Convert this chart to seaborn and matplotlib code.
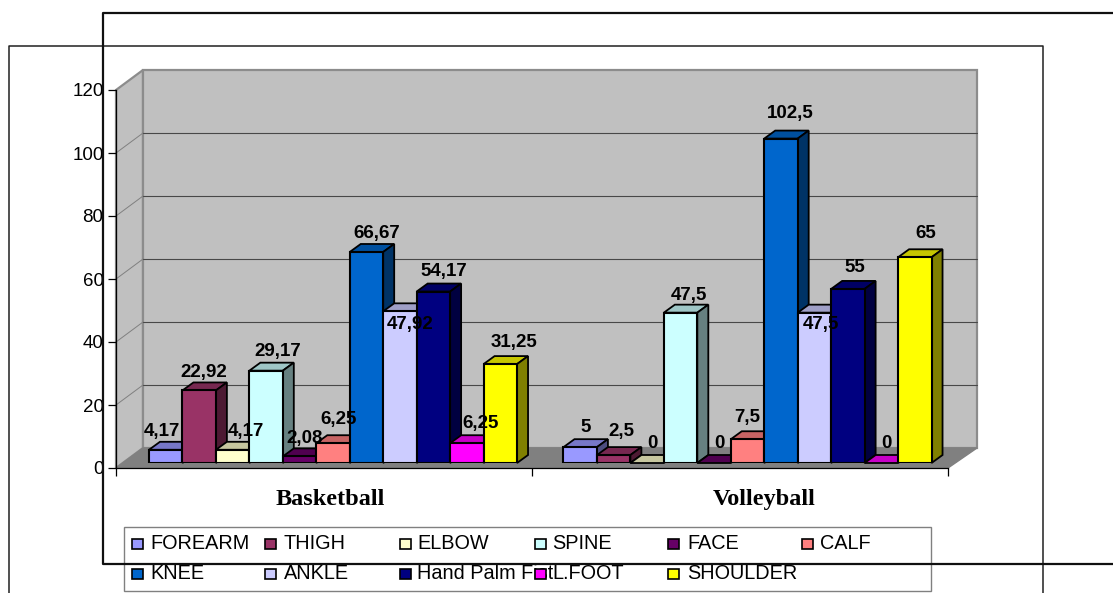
# injuries by body part - basketball vs volleyball, fake 3D bars
import pandas as pd
import matplotlib.pyplot as plt
import seaborn as sns
from matplotlib.patches import Polygon, Rectangle
from matplotlib.transforms import ScaledTranslation

sports = ['Basketball', 'Volleyball']
parts = ['FOREARM', 'THIGH', 'ELBOW', 'SPINE', 'FACE', 'CALF',
         'KNEE', 'ANKLE', 'Hand Palm Fist', 'L.FOOT', 'SHOULDER']
basketball = [4.17, 22.92, 4.17, 29.17, 2.08, 6.25, 66.67, 47.92, 54.17, 6.25, 31.25]
volleyball = [5, 2.5, 0, 47.5, 0, 7.5, 102.5, 47.5, 55, 0, 65]
colors = ['#9999FF', '#993366', '#FFFFCC', '#CCFFFF', '#660066', '#FF8080',
          '#0066CC', '#CCCCFF', '#000080', '#FF00FF', '#FFFF00']
yticks = [0, 20, 40, 60, 80, 100, 120]

# nudges (px) of the value labels from bar centre / bar top
nudge_x = [[-4, 5, 13, 12, 5, 6, 10, 10, 10, 14, 14],
           [5, 8, 5, 8.5, 5, 0, 9, 6.5, 7, 5.5, 11]]
nudge_y = [[18, 18, 18, 19, 18, 24, 18.5, -13, 20, 20, 22],
           [20, 24, 20, 17, 19, 22, 25, -12, 21, 19, 24]]

W, H = 1113, 593
PX_UNIT = 3.165      # px per y unit
GROUP_PX = 414.5     # px between group centres
DEPTH_X, DEPTH_Y = 11, 8   # bar depth in px
WALL_X, WALL_Y = 27, 20    # chart depth in px

sns.set_theme(style='white')
plt.rcParams['font.family'] = ['Liberation Sans', 'DejaVu Sans']

fig = plt.figure(figsize=(W / 100, H / 100), dpi=100, facecolor='white')


def box(left, top, right, bottom):
    return [left / W, 1 - bottom / H, (right - left) / W, (bottom - top) / H]


# walls and floor, in pixel coords
bg = fig.add_axes([0, 0, 1, 1], zorder=0)
bg.set_xlim(0, W)
bg.set_ylim(H, 0)
bg.axis('off')
bg.add_patch(Polygon([(116, 90), (143, 70), (143, 448), (116, 468)], fc='#C0C0C0', ec='#8C8C8C', lw=1.6))
bg.add_patch(Rectangle((143, 70), 834, 378, fc='#C0C0C0', ec='#8C8C8C', lw=1.6))
bg.add_patch(Polygon([(116, 468), (143, 448), (977, 448), (948, 468)], fc='#808080', ec='#808080', lw=1))

# axis frame on the front plane
axis = fig.add_axes(box(116, 90, 948, 468), zorder=1)
axis.patch.set_alpha(0)
axis.set_xlim(0, 2)
axis.set_ylim(0, 120)
axis.set_xticks([0, 1, 2], labels=['', '', ''])
axis.set_yticks(yticks)
axis.tick_params(axis='y', left=True, length=5.5, width=0.9, color='black', labelsize=13.5, pad=3.5, labelcolor='black')
axis.tick_params(axis='x', bottom=True, length=5.5, width=0.9, color='black')
sns.despine(ax=axis, top=True, right=True)
for s in ['left', 'bottom']:
    axis.spines[s].set_color('black')
    axis.spines[s].set_linewidth(0.9)

# grid lines run over side wall and back wall
for t in yticks[1:-1]:
    y = 468 - t * (468 - 90) / 120
    bg.plot([116, 143], [y, y - WALL_Y], color='#808080', lw=0.7)
    bg.plot([143, 977], [y - WALL_Y, y - WALL_Y], color='#484848', lw=0.8)

# bars
df = pd.DataFrame({
    'sport': [s for s in sports for _ in parts],
    'part': parts * 2,
    'value': basketball + volleyball,
})

ax = fig.add_axes(box(116, 0, 948, 463), zorder=2)
ax.patch.set_alpha(0)
sns.barplot(data=df, x='sport', y='value', hue='part', order=sports, hue_order=parts,
            palette=colors, width=0.888, gap=0, saturation=1, edgecolor='black',
            linewidth=1.5, legend=False, ax=ax)
ax.set_xlim((116 - 333) / GROUP_PX, (948 - 333) / GROUP_PX)
ax.set_ylim(0, 463 / PX_UNIT)
ax.set_xlabel('')
ax.set_ylabel('')
ax.set_yticks([])
sns.despine(ax=ax, left=True, bottom=True)

dx = DEPTH_X / GROUP_PX
dy = DEPTH_Y / PX_UNIT


def shade(col, k):
    rgb = plt.matplotlib.colors.to_rgb(col)
    return tuple(c * k for c in rgb)


for i, cont in enumerate(ax.containers):
    z = 3 + i
    for g, bar in enumerate(cont.patches):
        x0, w, h = bar.get_x(), bar.get_width(), bar.get_height()
        x1 = x0 + w
        bar.set_zorder(z + 0.2)
        top = Polygon([(x0, h), (x0 + dx, h + dy), (x1 + dx, h + dy), (x1, h)],
                      fc=shade(colors[i], 0.78), ec='black', lw=1.3, zorder=z, clip_on=False)
        ax.add_patch(top)
        if h > 0:
            side = Polygon([(x1, 0), (x1 + dx, dy), (x1 + dx, h + dy), (x1, h)],
                           fc=shade(colors[i], 0.5), ec='black', lw=1.3, zorder=z, clip_on=False)
            ax.add_patch(side)
        else:
            bar.set_visible(False)
        lab = str(basketball[i] if g == 0 else volleyball[i]).replace('.', ',')
        if lab.endswith(',0'):
            lab = lab[:-2]
        ax.annotate(lab, (x0 + w / 2, h), xytext=(nudge_x[g][i], nudge_y[g][i]),
                    textcoords='offset pixels', ha='center', va='center',
                    fontsize=13.5, fontweight='bold', color='black', zorder=50)

# category labels
ax.set_xticks([0, 1], labels=sports)
ax.tick_params(axis='x', bottom=False, pad=12.5)
for lab, shift in zip(ax.get_xticklabels(), [-3, 16.5]):
    lab.set_fontfamily(['Liberation Serif', 'DejaVu Serif'])
    lab.set_fontweight('bold')
    lab.set_fontsize(17.5)
    lab.set_color('black')
    lab.set_transform(lab.get_transform() + ScaledTranslation(shift / 100, 0, fig.dpi_scale_trans))

# legend and the stray page frames on top, pixel coords
over = fig.add_axes([0, 0, 1, 1], zorder=3)
over.patch.set_alpha(0)
over.set_xlim(0, W)
over.set_ylim(H, 0)
over.axis('off')

over.add_patch(Rectangle((124, 527), 807, 64, fc='none', ec='#808080', lw=1))
swatch_x = [132, 265, 400, 535, 668, 802]
text_x = [150, 284, 417, 552, 687, 820]
for i, part in enumerate(parts):
    col = i % 6
    row = i // 6
    over.text(text_x[col], 543.5 + row * 30, part, fontsize=14.3, color='black', va='center', ha='left', zorder=2)
    over.add_patch(Rectangle((swatch_x[col], 539 + row * 30), 11, 10, fc=colors[i], ec='black', lw=1.2, zorder=3))

over.plot([9, 9, 1043, 1043], [H, 46, 46, H], color='#202020', lw=1.1, clip_on=False)
over.plot([1113, 103, 103, 1113], [13, 13, 564, 564], color='#101010', lw=1.6, clip_on=False)

plt.savefig('out.png', dpi=100)
